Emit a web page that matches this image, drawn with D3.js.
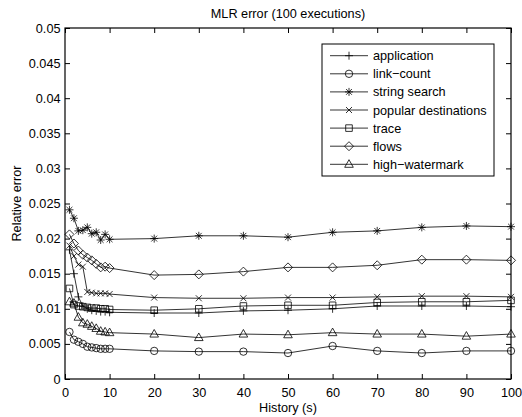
<!DOCTYPE html>
<html><head><meta charset="utf-8">
<script src="https://cdn.jsdelivr.net/npm/d3@7"></script>
<style>
body{margin:0;background:#fff;}
svg{display:block;font-family:"Liberation Sans",Arial,sans-serif;}
</style></head>
<body><svg id="c" width="522" height="417"></svg>
<script>
const history = [1,2,3,4,5,6,7,8,9,10,20,30,40,50,60,70,80,90,100];
const application = [0.0184,0.0150,0.0117,0.0104,0.0100,0.0098,0.0097,0.0096,0.0096,0.0095,0.0094,0.0094,0.0097,0.0098,0.0100,0.0104,0.0104,0.0104,0.0103];
const linkCount = [0.0067,0.0056,0.0053,0.0050,0.0046,0.0045,0.0044,0.0043,0.0043,0.0043,0.0040,0.0039,0.0039,0.0037,0.0047,0.0040,0.0037,0.0040,0.0040];
const stringSearch = [0.0241,0.0229,0.0211,0.0212,0.0216,0.0207,0.0209,0.0198,0.0206,0.0199,0.0200,0.0204,0.0204,0.0202,0.0209,0.0211,0.0216,0.0218,0.0217];
const popularDestinations = [0.0190,0.0175,0.0163,0.0160,0.0124,0.0123,0.0122,0.0122,0.0122,0.0121,0.0116,0.0115,0.0115,0.0116,0.0116,0.0117,0.0118,0.0118,0.0117];
const trace = [0.0129,0.0106,0.0104,0.0103,0.0102,0.0101,0.0101,0.0100,0.0100,0.0099,0.0098,0.0100,0.0104,0.0105,0.0105,0.0109,0.0110,0.0110,0.0112];
const flows = [0.0206,0.0193,0.0183,0.0177,0.0173,0.0169,0.0164,0.0159,0.0160,0.0158,0.0148,0.0149,0.0153,0.0159,0.0159,0.0162,0.0170,0.0170,0.0169];
const highWatermark = [0.0110,0.0108,0.0088,0.0080,0.0078,0.0075,0.0072,0.0068,0.0067,0.0066,0.0064,0.0059,0.0064,0.0063,0.0066,0.0064,0.0064,0.0061,0.0064];
const seriesNames = ["application","link\u2212count","string search","popular destinations","trace","flows","high\u2212watermark"];
const markerTypes = ["plus","circle","star","x","square","diamond","triangle"];
const xTicks = [0,10,20,30,40,50,60,70,80,90,100];
const yTicks = [0,0.005,0.01,0.015,0.02,0.025,0.03,0.035,0.04,0.045,0.05];
const yTickLabels = ["0","0.005","0.01","0.015","0.02","0.025","0.03","0.035","0.04","0.045","0.05"];
const titleText = "MLR error (100 executions)";
const xLabel = "History (s)";
const yLabel = "Relative error";

const allSeries = [application,linkCount,stringSearch,popularDestinations,trace,flows,highWatermark];

const L=65,R=511,T=28,B=379;
const fs = 12.7;
const svg = d3.select("#c");
const x = d3.scaleLinear().domain([0,100]).range([L,R]);
const y = d3.scaleLinear().domain([0,0.05]).range([B,T]);

function markerPath(type){
  switch(type){
    case "plus": return "M-4,0H4M0,-4V4";
    case "circle": return "M-3.7,0A3.7,3.7 0 1,0 3.7,0A3.7,3.7 0 1,0 -3.7,0Z";
    case "star": return "M-4,0H4M0,-4V4M-2.9,-2.9L2.9,2.9M-2.9,2.9L2.9,-2.9";
    case "x": return "M-3,-3L3,3M-3,3L3,-3";
    case "square": return "M-3.3,-3.3H3.3V3.3H-3.3Z";
    case "diamond": return "M0,-4.5L4.5,0L0,4.5L-4.5,0Z";
    case "triangle": return "M0,-4.6L4.3,3L-4.3,3Z";
  }
}

// axes
const gx = svg.append("g").attr("transform",`translate(0,${B})`)
  .call(d3.axisBottom(x).tickValues(xTicks).tickSize(-5).tickPadding(8.5).tickFormat(d3.format("d")));
const gxt = svg.append("g").attr("transform",`translate(0,${T})`)
  .call(d3.axisTop(x).tickValues(xTicks).tickSize(-5).tickFormat(""));
const gy = svg.append("g").attr("transform",`translate(${L},0)`)
  .call(d3.axisLeft(y).tickValues(yTicks).tickSize(-5).tickPadding(4.5).tickFormat((d,i)=>yTickLabels[i]));
const gyr = svg.append("g").attr("transform",`translate(${R},0)`)
  .call(d3.axisRight(y).tickValues(yTicks).tickSize(-5).tickFormat(""));
[gx,gxt,gy,gyr].forEach(g=>{
  g.select(".domain").remove();
  g.selectAll("line").attr("stroke","#000").attr("stroke-width",1);
  g.selectAll("text").attr("font-size",fs).attr("fill","#000").attr("font-family","Liberation Sans, Arial, sans-serif");
});
svg.append("rect").attr("x",L).attr("y",T).attr("width",R-L).attr("height",B-T)
  .attr("fill","none").attr("stroke","#000").attr("stroke-width",1.2);

// series
const line = d3.line().x((d,i)=>x(history[i])).y(d=>y(d));
allSeries.forEach((vals,si)=>{
  svg.append("path").attr("d",line(vals)).attr("fill","none").attr("stroke","#000").attr("stroke-width",0.8);
  svg.append("g").selectAll("path").data(vals).join("path")
    .attr("transform",(d,i)=>`translate(${x(history[i])},${y(d)})`)
    .attr("d",markerPath(markerTypes[si]))
    .attr("fill","none").attr("stroke","#000").attr("stroke-width",0.8);
});

// title & labels
svg.append("text").attr("x",(L+R)/2).attr("y",18).attr("text-anchor","middle")
  .attr("font-size",fs).text(titleText);
svg.append("text").attr("x",(L+R)/2).attr("y",412).attr("text-anchor","middle")
  .attr("font-size",fs).text(xLabel);
svg.append("text").attr("transform",`translate(21,${(T+B)/2}) rotate(-90)`).attr("text-anchor","middle")
  .attr("font-size",fs).text(yLabel);

// legend
const lg = svg.append("g");
lg.append("rect").attr("x",322).attr("y",44).attr("width",172).attr("height",132)
  .attr("fill","#fff").attr("stroke","#000").attr("stroke-width",1);
seriesNames.forEach((n,i)=>{
  const yy = 55.7 + i*18.1;
  lg.append("line").attr("x1",330).attr("x2",368).attr("y1",yy).attr("y2",yy).attr("stroke","#000").attr("stroke-width",0.8);
  lg.append("path").attr("transform",`translate(349,${yy})`).attr("d",markerPath(markerTypes[i]))
    .attr("fill","none").attr("stroke","#000").attr("stroke-width",0.8);
  lg.append("text").attr("x",373).attr("y",yy+4.5).attr("font-size",fs).text(n);
});
</script></body></html>
